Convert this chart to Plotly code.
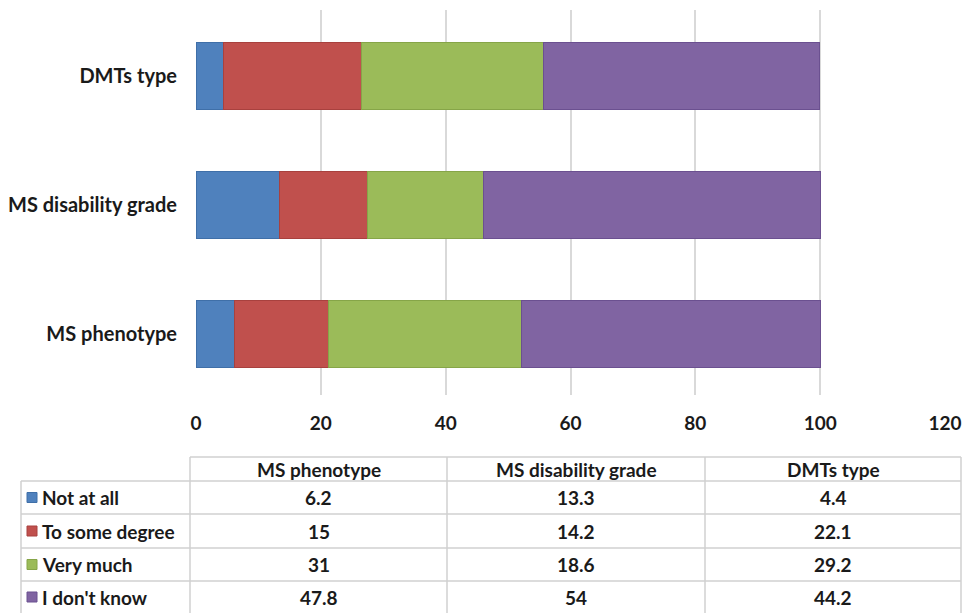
import plotly.graph_objects as go

categories = ["MS phenotype", "MS disability grade", "DMTs type"]
series_names = ["Not at all", "To some degree", "Very much", "I don't know"]
not_at_all = [6.2, 13.3, 4.4]
to_some_degree = [15, 14.2, 22.1]
very_much = [31, 18.6, 29.2]
dont_know = [47.8, 54, 44.2]
x_ticks = [0, 20, 40, 60, 80, 100, 120]

series_values = [not_at_all, to_some_degree, very_much, dont_know]
colors = ["#4F81BD", "#C0504D", "#9BBB59", "#8064A2"]
borders = ["#3F6FA8", "#A8413E", "#86A548", "#6B5090"]

W, H = 963, 613
L, R, T, B = 196, 18, 10, 218
FONT = "Lato"
TXT = "#1a1a1a"

fig = go.Figure()
for name, vals, c, bc in zip(series_names, series_values, colors, borders):
    fig.add_trace(go.Bar(
        y=categories, x=vals, name=name, orientation="h",
        marker=dict(color=c, line=dict(color=bc, width=1)),
        width=0.52, showlegend=False, hoverinfo="x+name",
    ))

def px(x):
    return (x - L) / (W - L - R)

def py(y):
    return (H - B - y) / (H - T - B)

shapes = []
annotations = []
gc = "#D0D0D0"

def line(x0, y0, x1, y1):
    shapes.append(dict(type="line", xref="paper", yref="paper",
                       x0=px(x0), y0=py(y0), x1=px(x1), y1=py(y1),
                       line=dict(color=gc, width=1.5)))

col_x = [190, 447, 705, 961]
row_y = [457, 481, 514, 548, 581, 615]
left_x = 21

line(col_x[0], row_y[0], col_x[-1], row_y[0])
for cx in col_x:
    line(cx, row_y[0], cx, row_y[-1])
line(left_x, row_y[1], left_x, row_y[-1])
for ry in row_y[1:]:
    line(left_x, ry, col_x[-1], ry)

def txt(x, y, s, xanchor="center"):
    annotations.append(dict(xref="paper", yref="paper", x=px(x), y=py(y),
                            xanchor=xanchor, yanchor="middle",
                            text="<b>%s</b>" % s, showarrow=False,
                            font=dict(family=FONT, size=19, color=TXT)))

for j, cat in enumerate(categories):
    xc = (col_x[j] + col_x[j + 1]) / 2
    yc = (row_y[0] + row_y[1]) / 2
    txt(xc, yc, cat)

for i, (name, vals) in enumerate(zip(series_names, series_values)):
    yc = (row_y[i + 1] + row_y[i + 2]) / 2
    if i == 3:
        yc = 597
    shapes.append(dict(type="rect", xref="paper", yref="paper",
                       x0=px(27), x1=px(37), y0=py(yc - 5), y1=py(yc + 5),
                       fillcolor=colors[i], line=dict(color=borders[i], width=1)))
    txt(40, yc, name, xanchor="left")
    for j, v in enumerate(vals):
        xc = (col_x[j] + col_x[j + 1]) / 2
        txt(xc, yc, "%g" % v)

fig.update_layout(
    width=W, height=H, barmode="stack",
    margin=dict(l=L, r=R, t=T, b=B, autoexpand=False),
    plot_bgcolor="white", paper_bgcolor="white",
    shapes=shapes, annotations=annotations,
    xaxis=dict(range=[0, 120], tickvals=x_ticks, ticktext=["<b>%d</b>" % t for t in x_ticks],
               showgrid=True, gridcolor="#D9D9D9",
               gridwidth=1.5, zeroline=False, showline=False, ticks="",
               tickfont=dict(family=FONT, size=19, color=TXT), ticklabelstandoff=15),
    yaxis=dict(showgrid=False, zeroline=False, showline=False, ticks="",
               tickvals=categories, ticktext=["<b>%s</b>" % c for c in categories],
               tickfont=dict(family=FONT, size=20, color=TXT), ticklabelstandoff=18,
               range=[-0.47, 2.51]),
    font=dict(family=FONT),
)

fig.write_html(
    "out.html",
    config={"displayModeBar": False},
    post_script="document.body.style.margin='0';document.body.style.overflow='hidden';",
)
